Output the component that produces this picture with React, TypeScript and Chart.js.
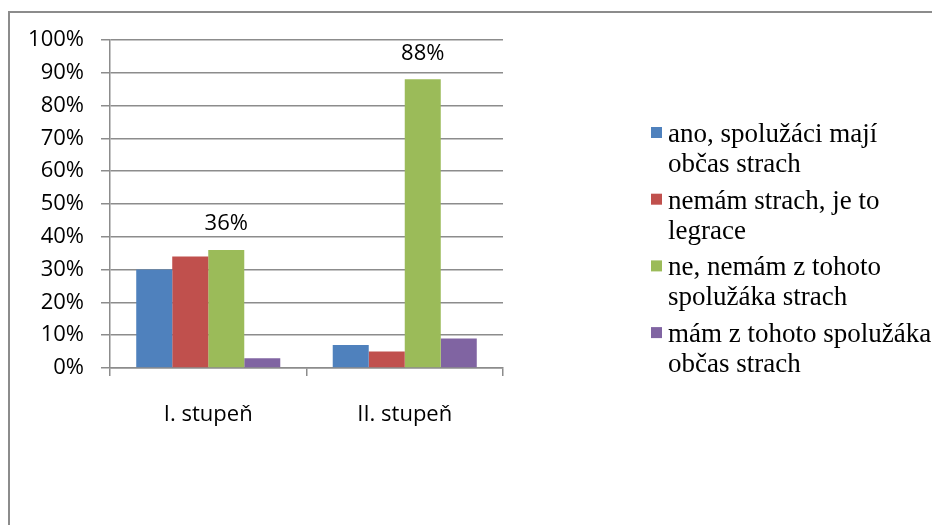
import React, { useEffect, useRef } from "react";
import { Chart, registerables } from "chart.js";

Chart.register(...registerables);

const categories = ["I. stupeň", "II. stupeň"];
const seriesNames: string[][] = [
  ["ano, spolužáci mají", "občas strach"],
  ["nemám strach, je to", "legrace"],
  ["ne, nemám z tohoto", "spolužáka strach"],
  ["mám z tohoto spolužáka", "občas strach"],
];
const seriesAno = [30, 7];
const seriesNemamLegrace = [34, 5];
const seriesNeNemam = [36, 88];
const seriesMamObcas = [3, 9];
const seriesColors = ["#4F81BD", "#C0504D", "#9BBB59", "#8064A2"];
const labeledSeries = [2];
const yTicks = [0, 10, 20, 30, 40, 50, 60, 70, 80, 90, 100];

const GRID = "#8c8c8c";
const SANS = '"Open Sans", sans-serif';
const SERIF = '"Liberation Serif"';

const framePlugin = {
  id: "frame",
  beforeDraw(chart: any) {
    const ctx = chart.ctx;
    ctx.save();
    ctx.fillStyle = "#ffffff";
    ctx.fillRect(0, 0, chart.width, chart.height);
    ctx.strokeStyle = GRID;
    ctx.lineWidth = 2;
    ctx.beginPath();
    ctx.moveTo(9, chart.height + 5);
    ctx.lineTo(9, 12);
    ctx.lineTo(chart.width + 5, 12);
    ctx.stroke();
    ctx.restore();
  },
};

const valueLabelPlugin = {
  id: "valueLabels",
  afterDatasetsDraw(chart: any) {
    const ctx = chart.ctx;
    ctx.save();
    ctx.font = `22px ${SANS}`;
    ctx.fillStyle = "#000000";
    ctx.textAlign = "center";
    ctx.textBaseline = "middle";
    labeledSeries.forEach((di) => {
      const meta = chart.getDatasetMeta(di);
      const data = chart.data.datasets[di].data as number[];
      meta.data.forEach((el: any, i: number) => {
        ctx.fillText(`${data[i]}%`, el.x, el.y - 26);
      });
    });
    ctx.restore();
  },
};

const legendPlugin = {
  id: "customLegend",
  afterDraw(chart: any) {
    const ctx = chart.ctx;
    ctx.save();
    ctx.font = `27px ${SERIF}, serif`;
    ctx.textBaseline = "middle";
    ctx.textAlign = "left";
    const textX = 668;
    const startY = 135;
    const lineGap = 30;
    const entryGap = 66.7;
    chart.data.datasets.forEach((ds: any, i: number) => {
      const y = startY + i * entryGap;
      ctx.fillStyle = ds.backgroundColor;
      ctx.fillRect(651, y - 8, 11, 11);
      ctx.fillStyle = "#000000";
      (ds.legendLines as string[]).forEach((line, li) => {
        ctx.fillText(line, textX, y + li * lineGap);
      });
    });
    ctx.restore();
  },
};

export default function App() {
  const ref = useRef<HTMLCanvasElement | null>(null);
  useEffect(() => {
    if (!ref.current) return;
    const seriesValues = [seriesAno, seriesNemamLegrace, seriesNeNemam, seriesMamObcas];
    const chart = new Chart(ref.current, {
      type: "bar",
      data: {
        labels: categories,
        datasets: seriesValues.map((vals, i) => ({
          label: seriesNames[i].join(" "),
          legendLines: seriesNames[i],
          data: vals,
          backgroundColor: seriesColors[i],
          borderWidth: 0,
          categoryPercentage: 0.733,
          barPercentage: 1,
        })) as any,
      },
      options: {
        responsive: false,
        animation: false,
        events: [],
        layout: { padding: { left: 0, top: 40, right: 429, bottom: 0 } },
        plugins: {
          legend: { display: false },
          tooltip: { enabled: false },
          title: { display: false },
        },
        scales: {
          x: {
            grid: {
              display: true,
              drawOnChartArea: false,
              drawTicks: true,
              tickLength: 8,
              color: GRID,
              lineWidth: 1.5,
            },
            border: { display: true, color: GRID, width: 1.5 },
            ticks: {
              color: "#000000",
              font: { family: SANS, size: 22 },
              padding: 26,
            },
            afterFit(s: any) {
              s.height = 157;
            },
          },
          y: {
            min: 0,
            max: 100,
            afterBuildTicks(s: any) {
              s.ticks = yTicks.map((v) => ({ value: v }));
            },
            grid: {
              color: GRID,
              lineWidth: 1.5,
              drawTicks: true,
              tickLength: 9,
            },
            border: { display: true, color: GRID, width: 1.5 },
            ticks: {
              color: "#000000",
              font: { family: SANS, size: 22 },
              padding: 17,
              callback: (v: any) => `${v}%`,
            },
            afterFit(s: any) {
              s.width = 110;
            },
          },
        },
      },
      plugins: [framePlugin, valueLabelPlugin, legendPlugin],
    });
    let alive = true;
    const fonts: any = (document as any).fonts;
    if (fonts && fonts.load) {
      Promise.all([
        fonts.load(`27px ${SERIF}`, "ano, spolužáci mají"),
        fonts.load(`22px "Open Sans"`, "100%"),
      ])
        .then(() => {
          if (alive) chart.update();
        })
        .catch(() => {});
    }
    return () => {
      alive = false;
      chart.destroy();
    };
  }, []);
  return (
    <div style={{ position: "absolute", left: 0, top: 0, width: 932, height: 525, background: "#fff" }}>
      <canvas ref={ref} width={932} height={525} style={{ display: "block" }} />
    </div>
  );
}
